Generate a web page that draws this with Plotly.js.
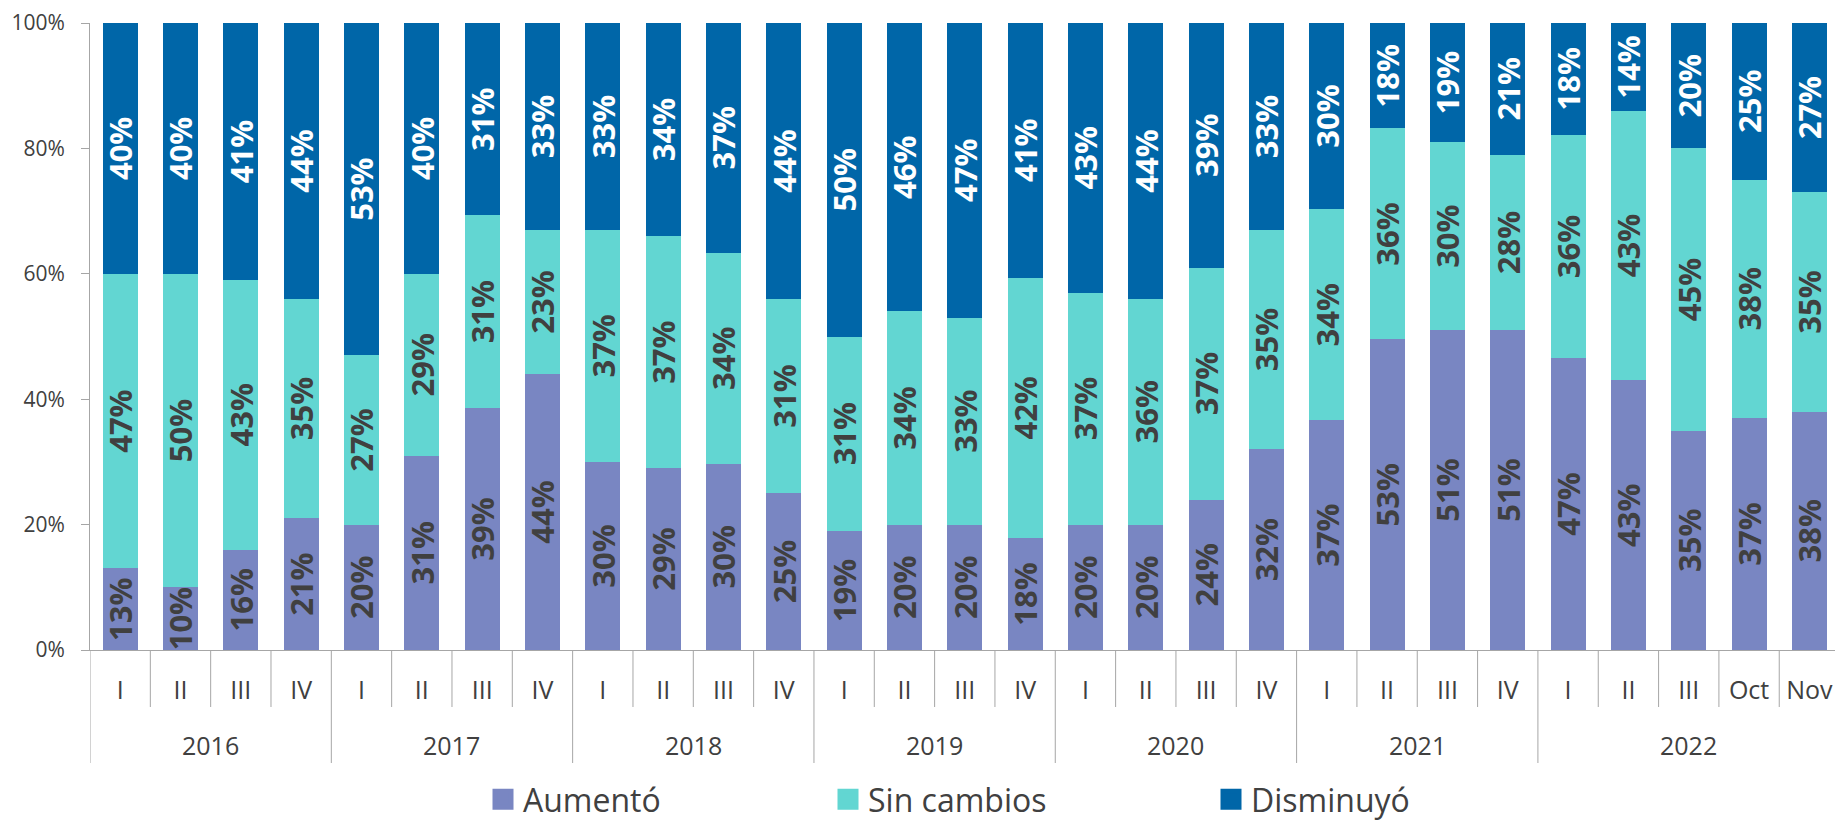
<!DOCTYPE html>
<html>
<head>
<meta charset="utf-8">
<script src="https://cdn.plot.ly/plotly-3.0.1.min.js"></script>
<style>
html,body{margin:0;padding:0;background:#fff;}
#chart{width:1835px;height:827px;}
</style>
</head>
<body>
<div id="chart"></div>
<script>
// ---- Data ----
const years = ['2016','2017','2018','2019','2020','2021','2022'];
const yearCounts = [4,4,4,4,4,4,5];
const periods = ['I','II','III','IV','I','II','III','IV','I','II','III','IV','I','II','III','IV',
                 'I','II','III','IV','I','II','III','IV','I','II','III','Oct','Nov'];
const aumento    = [13,10,16,21, 20,31,39,44, 30,29,30,25, 19,20,20,18, 20,20,24,32, 37,53,51,51, 47,43,35,37,38];
const sinCambios = [47,50,43,35, 27,29,31,23, 37,37,34,31, 31,34,33,42, 37,36,37,35, 34,36,30,28, 36,43,45,38,35];
const disminuyo  = [40,40,41,44, 53,40,31,33, 33,34,37,44, 50,46,47,41, 43,44,39,33, 30,18,19,21, 18,14,20,25,27];
const yTicks = [0, 20, 40, 60, 80, 100];
const yTickText = ['0%','20%','40%','60%','80%','100%'];
const seriesNames = ['Aumentó','Sin cambios','Disminuyó'];
const seriesColors = ['#7986c2','#62d6d2','#0066a8'];
const labelColors = ['#404040','#404040','#ffffff'];

// ---- Layout geometry ----
const W = 1835, H = 827;
const mL = 90, mR = 0, mT = 23, mB = 177;
const plotW = W - mL - mR, plotH = H - mT - mB;
const catPx = 60.33;
const xMax = -0.5 + plotW / catPx;

const xIdx = periods.map((_, i) => i);
const FONT = 'Open Sans, Lato, sans-serif';
const TXT = '#404040';
const GRID = '#a6a6a6';

const seriesData = [aumento, sinCambios, disminuyo];
const traces = seriesData.map((vals, k) => ({
  type: 'bar',
  x: xIdx,
  y: vals,
  name: seriesNames[k],
  showlegend: false,
  marker: {color: seriesColors[k]},
  text: vals.map(v => v + '%'),
  textposition: 'inside',
  insidetextanchor: 'middle',
  textangle: -90,
  constraintext: 'none',
  textfont: {family: FONT, size: 31, color: labelColors[k], weight: 700},
  hoverinfo: 'name+text'
}));

// legend helper traces (one per legend)
const legendPx = [498, 843, 1226];
seriesNames.forEach((nm, k) => {
  traces.push({
    type: 'scatter', mode: 'markers', x: [null], y: [null], name: nm,
    legend: k === 0 ? 'legend' : 'legend' + (k + 1),
    marker: {symbol: 'square', size: 16, color: seriesColors[k], line: {width: 5, color: seriesColors[k]}},
    hoverinfo: 'skip'
  });
});

// separators and year labels
const shapes = [];
const annotations = [];
const yearBoundaries = new Set();
let cum = 0;
yearBoundaries.add(0);
yearCounts.forEach((c, j) => {
  annotations.push({
    xref: 'x', yref: 'paper', x: cum + (c - 1) / 2, y: -(745 - 650) / plotH,
    text: years[j], showarrow: false, xanchor: 'center', yanchor: 'middle',
    font: {family: FONT, size: 25, color: TXT}
  });
  cum += c;
  yearBoundaries.add(cum);
});
for (let b = 0; b < periods.length; b++) {
  const long = yearBoundaries.has(b);
  shapes.push({
    type: 'line', xref: 'x', yref: 'paper', x0: b - 0.5, x1: b - 0.5,
    y0: 0, y1: -((long ? 763 : 707) - 650) / plotH,
    line: {color: GRID, width: 1}
  });
}

function legendCfg(k) {
  return {
    orientation: 'h', xref: 'container', yref: 'container',
    x: (legendPx[k] - 15) / W, xanchor: 'left',
    y: 0, yanchor: 'bottom',
    font: {family: FONT, size: 32, color: TXT}, bgcolor: 'rgba(0,0,0,0)'
  };
}

const layout = {
  width: W, height: H,
  margin: {l: mL, r: mR, t: mT, b: mB, autoexpand: false},
  paper_bgcolor: '#fff', plot_bgcolor: '#fff',
  barmode: 'stack', barnorm: 'percent', bargap: 0.42,
  font: {family: FONT, color: TXT},
  xaxis: {
    type: 'linear', range: [-0.5, xMax], tickmode: 'array', tickvals: xIdx, ticktext: periods,
    showgrid: false, zeroline: false, showline: true, linecolor: GRID, linewidth: 1,
    ticks: '', tickfont: {family: FONT, size: 25, color: TXT}, ticklabelstandoff: 18, fixedrange: true
  },
  yaxis: {
    range: [0, 100], tickmode: 'array', tickvals: yTicks, ticktext: yTickText,
    showgrid: false, zeroline: false, showline: true, linecolor: GRID, linewidth: 1,
    ticks: 'outside', ticklen: 8, tickcolor: GRID,
    tickfont: {family: FONT, size: 21, color: TXT}, ticklabelstandoff: 12, fixedrange: true
  },
  legend: legendCfg(0), legend2: legendCfg(1), legend3: legendCfg(2),
  shapes: shapes, annotations: annotations
};

Plotly.newPlot('chart', traces, layout, {displayModeBar: false, staticPlot: true});
</script>
</body>
</html>
